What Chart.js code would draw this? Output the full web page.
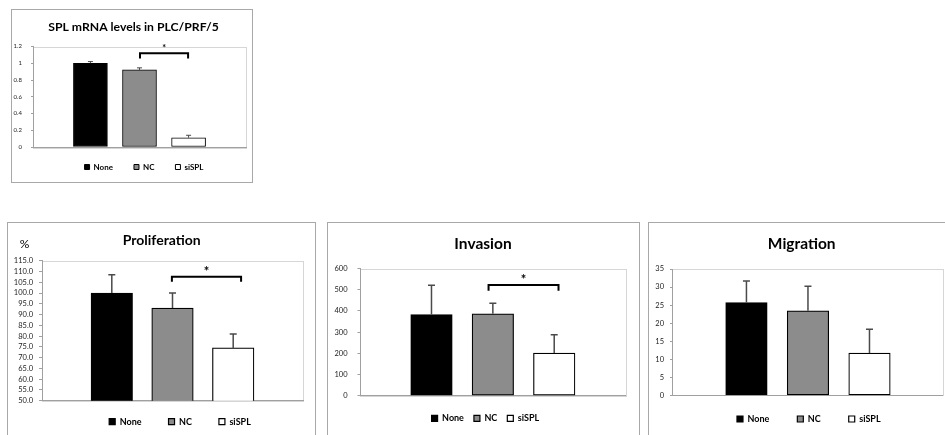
<!DOCTYPE html>
<html>
<head>
<meta charset="utf-8">
<script src="https://cdn.jsdelivr.net/npm/chart.js@4.4.1/dist/chart.umd.min.js"></script>
<style>
  html, body { margin: 0; padding: 0; background: #fff; overflow: hidden; width: 945px; height: 435px; }
  .frame { position: absolute; border: 1px solid #a8a8a8; box-sizing: border-box; }
  canvas { position: absolute; }
</style>
</head>
<body>
<div class="frame" style="left:11px;top:9px;width:242px;height:174px"></div>
<div class="frame" style="left:7px;top:222px;width:309px;height:240px"></div>
<div class="frame" style="left:327px;top:222px;width:313px;height:240px"></div>
<div class="frame" style="left:648px;top:222px;width:310px;height:240px"></div>
<canvas id="spl" width="241" height="200" style="left:11px;top:9px"></canvas>
<canvas id="prolif" width="308" height="240" style="left:7px;top:222px"></canvas>
<canvas id="invasion" width="312" height="240" style="left:327px;top:222px"></canvas>
<canvas id="migration" width="297" height="240" style="left:648px;top:222px"></canvas>
<script>
const groups = ['None', 'NC', 'siSPL'];
const groupFill = ['#000000', '#8c8c8c', '#ffffff'];

const splMean = [1.00, 0.92, 0.11];
const splErr = [0.02, 0.025, 0.03];
const splTicks = [0, 1.2, 0.2];

const prolifMean = [100.0, 93.0, 74.5];
const prolifErr = [8.5, 7.0, 6.5];
const prolifTicks = [50, 115, 5];

const invasionMean = [383, 386, 201];
const invasionErr = [138, 50, 87];
const invasionTicks = [0, 600, 100];

const migrationMean = [25.7, 23.4, 11.7];
const migrationErr = [6.0, 6.8, 6.6];
const migrationTicks = [0, 35, 5];

// significance brackets: [from x, to x, bar y, leg end y] in data units
const splBracket = [2.01, 2.99, 1.12, 1.056];
const prolifBracket = [1.99, 3.13, 107.6, 105.2];
const invasionBracket = [1.93, 3.07, 522, 495];

const FONT = 'Lato, "Open Sans", sans-serif';
const axisGray = '#a0a0a0';
Chart.defaults.font.family = FONT;

const plotFrame = {
    id: 'plotFrame',
    beforeDraw(chart, args, opts) {
        const a = chart.chartArea, ctx = chart.ctx;
        ctx.save();
        ctx.strokeStyle = opts.color;
        ctx.lineWidth = 1;
        ctx.strokeRect(Math.round(a.left) + 0.5, Math.round(a.top) + 0.5,
            Math.round(a.right - a.left), Math.round(a.bottom - a.top));
        ctx.restore();
    }
};

const errorBars = {
    id: 'errorBars',
    afterDatasetsDraw(chart, args, opts) {
        const ctx = chart.ctx, ys = chart.scales.y;
        ctx.save();
        ctx.strokeStyle = opts.color;
        ctx.lineWidth = opts.width;
        chart.data.datasets.forEach((ds, i) => {
            const bar = chart.getDatasetMeta(i).data[0];
            const top = ys.getPixelForValue(ds.data[0].y + ds.err);
            ctx.beginPath();
            ctx.moveTo(bar.x, bar.y);
            ctx.lineTo(bar.x, top);
            ctx.moveTo(bar.x - opts.cap, top);
            ctx.lineTo(bar.x + opts.cap, top);
            ctx.stroke();
        });
        ctx.restore();
    }
};

const sigBracket = {
    id: 'sigBracket',
    afterDatasetsDraw(chart, args, opts) {
        if (!opts.at) return;
        const [x1v, x2v, yv, legv] = opts.at;
        const xs = chart.scales.x, ys = chart.scales.y, ctx = chart.ctx;
        const x1 = xs.getPixelForValue(x1v), x2 = xs.getPixelForValue(x2v);
        const yTop = ys.getPixelForValue(yv), yLeg = ys.getPixelForValue(legv);
        ctx.save();
        ctx.strokeStyle = '#000';
        ctx.lineWidth = opts.width;
        ctx.beginPath();
        ctx.moveTo(x1, yLeg);
        ctx.lineTo(x1, yTop);
        ctx.lineTo(x2, yTop);
        ctx.lineTo(x2, yLeg);
        ctx.stroke();
        ctx.fillStyle = '#000';
        ctx.font = opts.font;
        ctx.textAlign = 'center';
        ctx.textBaseline = 'middle';
        ctx.fillText('*', (x1 + x2) / 2, yTop - opts.lift);
        ctx.restore();
    }
};

// shift the title and the legend row to given canvas points
const blockPlace = {
    id: 'blockPlace',
    afterLayout(chart, args, opts) {
        const tb = chart.titleBlock;
        if (tb && opts.titleX != null) {
            const dx = opts.titleX - (tb.left + tb.right) / 2;
            tb.left += dx; tb.right += dx;
        }
        const lg = chart.legend;
        if (lg && opts.legendX != null) {
            const lab = lg.options.labels;
            const itemH = Math.max(lab.font.size, lab.boxHeight);
            const dx = opts.legendX - (lg.left + lg.right) / 2;
            const dy = opts.legendY - (lg.top + lab.padding + itemH / 2);
            lg.left += dx; lg.right += dx;
            lg.top += dy; lg.bottom += dy;
        }
    }
};

const unitLabel = {
    id: 'unitLabel',
    afterDraw(chart, args, opts) {
        if (!opts.text) return;
        const ctx = chart.ctx;
        ctx.save();
        ctx.fillStyle = '#000';
        ctx.font = opts.font;
        ctx.textAlign = 'center';
        ctx.textBaseline = 'middle';
        ctx.fillText(opts.text, opts.x, opts.y);
        ctx.restore();
    }
};

const plainNum = v => String(Math.round(v * 10) / 10);

function getData(mean, err, spec) {
    return {
        datasets: groups.map((g, i) => ({
            label: g,
            data: [{ x: i + 1, y: mean[i] }],
            err: err[i],
            backgroundColor: groupFill[i],
            borderColor: '#000',
            borderWidth: spec.barBorder,
            borderSkipped: false,
            barThickness: spec.barWidth,
            grouped: false,
        })),
    };
}

function getConfig(data, spec, W, H) {
    const [left, top, right, bottom] = spec.area;
    const legendH = Math.max(spec.legendSize, spec.legendBox) + spec.legendGap + 10;
    const lh = spec.titleSize * 1.2;
    return {
        type: 'bar',
        data: data,
        options: {
            responsive: false,
            animation: false,
            layout: {
                autoPadding: false,
                padding: { left: 0, right: W - right, top: 0, bottom: H - bottom - legendH },
            },
            scales: {
                x: {
                    type: 'linear',
                    offset: false,
                    min: spec.xRange[0],
                    max: spec.xRange[1],
                    ticks: { display: false },
                    grid: { display: false },
                    border: { color: axisGray },
                    afterFit: s => { s.height = 0; },
                },
                y: {
                    min: spec.ticks[0],
                    max: spec.ticks[1],
                    ticks: {
                        stepSize: spec.ticks[2],
                        autoSkip: false,
                        font: { size: spec.tickSize },
                        color: '#222',
                        padding: spec.tickPad,
                        callback: spec.fmt,
                    },
                    grid: { drawOnChartArea: false, tickLength: spec.tickLen, color: axisGray },
                    border: { color: axisGray },
                    afterFit: s => { s.width = left; },
                },
            },
            plugins: {
                title: {
                    display: true,
                    text: spec.title,
                    color: '#000',
                    font: { size: spec.titleSize, weight: 'bold', lineHeight: 1.2 },
                    padding: { top: spec.titleY - lh / 2, bottom: top - spec.titleY - lh / 2 },
                },
                legend: {
                    position: 'bottom',
                    fullSize: false,
                    labels: {
                        boxWidth: spec.legendBox,
                        boxHeight: spec.legendBox,
                        padding: spec.legendGap,
                        color: '#000',
                        font: { size: spec.legendSize, weight: 'bold' },
                    },
                },
                tooltip: { enabled: false },
                blockPlace: { titleX: spec.titleX, legendX: spec.legendX, legendY: spec.legendY },
                plotFrame: { color: '#d6d6d6' },
                errorBars: { color: '#4a4a4a', width: spec.errWidth, cap: spec.errCap },
                sigBracket: { at: spec.bracket, width: 2, font: 'bold ' + spec.starSize + 'px ' + FONT, lift: spec.starLift },
                unitLabel: spec.unit || {},
            },
        },
        plugins: [plotFrame, errorBars, sigBracket, blockPlace, unitLabel],
    };
}

function drawChart(chartId, mean, err, spec) {
    const canvas = document.getElementById(chartId);
    new Chart(canvas, getConfig(getData(mean, err, spec), spec, canvas.width, canvas.height));
}

drawChart('spl', splMean, splErr, {
    title: 'SPL mRNA levels in PLC/PRF/5', titleSize: 12.2, titleX: 122.5, titleY: 18,
    area: [22, 37.5, 235, 138], ticks: splTicks, fmt: plainNum,
    tickSize: 6, tickLen: 2, tickPad: 9,
    legendX: 133, legendY: 158, legendGap: 21, legendSize: 8, legendBox: 5,
    xRange: [-0.17, 4.17], barWidth: 34, barBorder: 1,
    errWidth: 1, errCap: 2.5,
    bracket: splBracket, starSize: 9, starLift: 5,
});

drawChart('prolif', prolifMean, prolifErr, {
    title: 'Proliferation', titleSize: 14, titleX: 154.7, titleY: 18.7,
    area: [35, 38.7, 296, 178.7], ticks: prolifTicks, fmt: v => v.toFixed(1),
    tickSize: 7.5, tickLen: 3, tickPad: 6,
    legendX: 173, legendY: 199.7, legendGap: 27, legendSize: 9, legendBox: 6,
    xRange: [-0.15, 4.15], barWidth: 41.5, barBorder: 1.2,
    errWidth: 1.5, errCap: 3.5,
    bracket: prolifBracket, starSize: 13, starLift: 5,
    unit: { text: '%', x: 17.5, y: 22, font: '12px ' + FONT },
});

drawChart('invasion', invasionMean, invasionErr, {
    title: 'Invasion', titleSize: 15.5, titleX: 156, titleY: 22.3,
    area: [33, 46.5, 298.7, 173.7], ticks: invasionTicks, fmt: plainNum,
    tickSize: 7.5, tickLen: 2.5, tickPad: 10,
    legendX: 158.4, legendY: 196.3, legendGap: 10, legendSize: 9, legendBox: 6,
    xRange: [-0.165, 4.165], barWidth: 41.5, barBorder: 1.2,
    errWidth: 1.5, errCap: 3.5,
    bracket: invasionBracket, starSize: 13, starLift: 5,
});

drawChart('migration', migrationMean, migrationErr, {
    title: 'Migration', titleSize: 15.5, titleX: 153.7, titleY: 22.3,
    area: [24, 47, 294.7, 173.3], ticks: migrationTicks, fmt: plainNum,
    tickSize: 7.5, tickLen: 2, tickPad: 6,
    legendX: 160.8, legendY: 197, legendGap: 28, legendSize: 9, legendBox: 6,
    xRange: [-0.21, 4.19], barWidth: 41.5, barBorder: 1.2,
    errWidth: 1.5, errCap: 3.5,
    bracket: null, starSize: 13, starLift: 5,
});
</script>
</body>
</html>
